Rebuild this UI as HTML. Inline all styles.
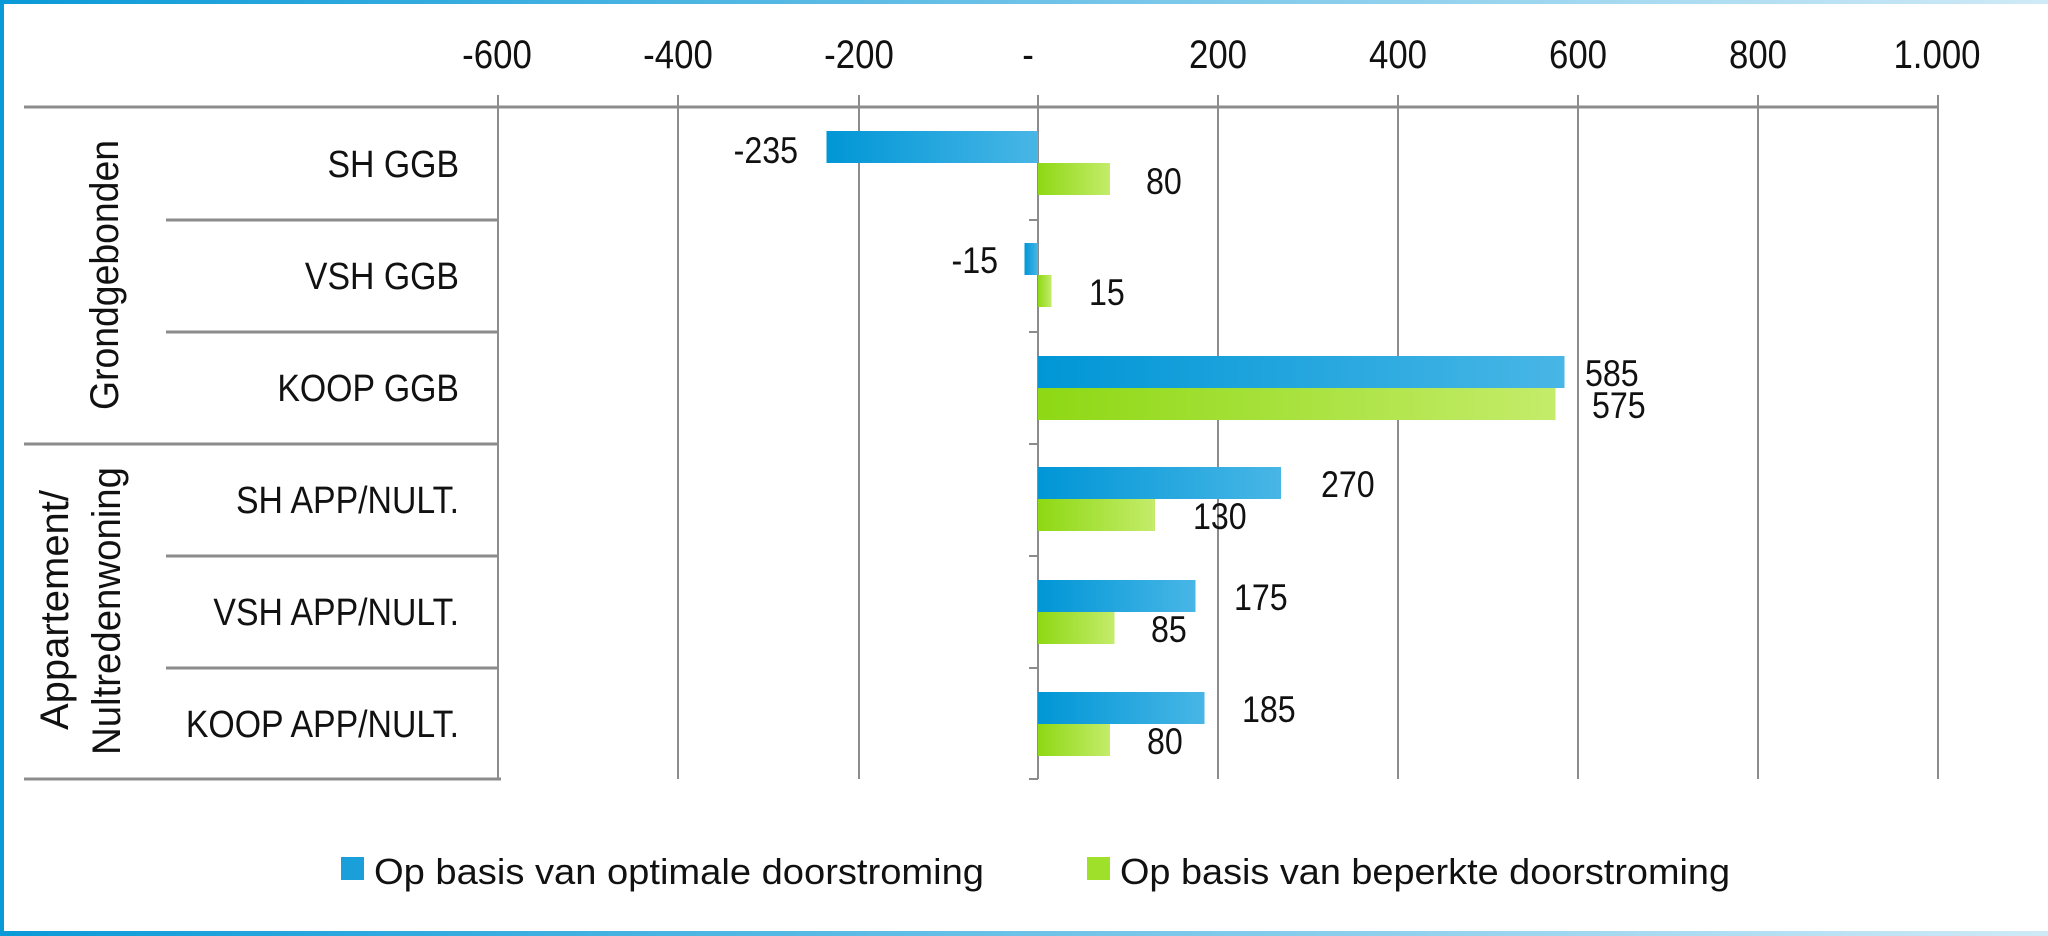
<!DOCTYPE html>
<html><head><meta charset="utf-8"><style>html,body{margin:0;padding:0;background:#fff}svg{display:block}</style></head>
<body>
<svg width="2048" height="936" viewBox="0 0 2048 936" xmlns="http://www.w3.org/2000/svg" font-family="Liberation Sans, sans-serif" fill="#111">
<defs>
<linearGradient id="b" x1="0" x2="1" y1="0" y2="0"><stop offset="0" stop-color="#0096d6"/><stop offset="1" stop-color="#48b6e6"/></linearGradient>
<linearGradient id="g" x1="0" x2="1" y1="0" y2="0"><stop offset="0" stop-color="#8ed814"/><stop offset="1" stop-color="#c4ec6a"/></linearGradient>
<linearGradient id="fr" x1="0" x2="1" y1="0" y2="0"><stop offset="0" stop-color="#0a9ad8"/><stop offset="1" stop-color="#cfeaf7"/></linearGradient>
</defs>
<rect x="0" y="0" width="2048" height="4" fill="url(#fr)"/>
<rect x="0" y="931" width="2048" height="5" fill="url(#fr)"/>
<rect x="0" y="0" width="4" height="936" fill="#0a9ad8"/>
<g stroke="#8c8c8c" stroke-width="2">
<line x1="498" y1="95" x2="498" y2="779"/>
<line x1="678" y1="95" x2="678" y2="779"/>
<line x1="859" y1="95" x2="859" y2="779"/>
<line x1="1038" y1="95" x2="1038" y2="779"/>
<line x1="1218" y1="95" x2="1218" y2="779"/>
<line x1="1398" y1="95" x2="1398" y2="779"/>
<line x1="1578" y1="95" x2="1578" y2="779"/>
<line x1="1758" y1="95" x2="1758" y2="779"/>
<line x1="1938" y1="95" x2="1938" y2="779"/>
<line x1="1029" y1="220" x2="1038" y2="220"/>
<line x1="1029" y1="332" x2="1038" y2="332"/>
<line x1="1029" y1="444" x2="1038" y2="444"/>
<line x1="1029" y1="556" x2="1038" y2="556"/>
<line x1="1029" y1="668" x2="1038" y2="668"/>
<line x1="1029" y1="779" x2="1038" y2="779"/>
</g>
<g stroke="#8c8c8c" stroke-width="3">
<line x1="24" y1="107" x2="1939" y2="107"/>
<line x1="24" y1="779" x2="501" y2="779"/>
<line x1="24" y1="444" x2="498" y2="444"/>
<line x1="166" y1="220" x2="498" y2="220"/>
<line x1="166" y1="332" x2="498" y2="332"/>
<line x1="166" y1="556" x2="498" y2="556"/>
<line x1="166" y1="668" x2="498" y2="668"/>
</g>
<g font-size="40" text-anchor="middle">
<text transform="translate(497,68) scale(0.87,1)">-600</text>
<text transform="translate(678,68) scale(0.87,1)">-400</text>
<text transform="translate(859,68) scale(0.87,1)">-200</text>
<text transform="translate(1028,68) scale(0.87,1)">-</text>
<text transform="translate(1218,68) scale(0.87,1)">200</text>
<text transform="translate(1398,68) scale(0.87,1)">400</text>
<text transform="translate(1578,68) scale(0.87,1)">600</text>
<text transform="translate(1758,68) scale(0.87,1)">800</text>
<text transform="translate(1937,68) scale(0.87,1)">1.000</text>
</g>
<g font-size="38" text-anchor="end">
<text transform="translate(459,177) scale(0.89,1)">SH GGB</text>
<text transform="translate(459,289) scale(0.89,1)">VSH GGB</text>
<text transform="translate(459,401) scale(0.89,1)">KOOP GGB</text>
<text transform="translate(459,513) scale(0.89,1)">SH APP/NULT.</text>
<text transform="translate(459,625) scale(0.89,1)">VSH APP/NULT.</text>
<text transform="translate(459,737) scale(0.89,1)">KOOP APP/NULT.</text>
</g>
<g font-size="40" text-anchor="middle">
<text transform="translate(118,275) rotate(-90)" textLength="270" lengthAdjust="spacingAndGlyphs">Grondgebonden</text>
<text transform="translate(68,610) rotate(-90)" textLength="240" lengthAdjust="spacingAndGlyphs">Appartement/</text>
<text transform="translate(120,611) rotate(-90)" textLength="288" lengthAdjust="spacingAndGlyphs">Nultredenwoning</text>
</g>
<rect x="826.5" y="131" width="211.5" height="32" fill="url(#b)"/>
<rect x="1038" y="163" width="72" height="32" fill="url(#g)"/>
<rect x="1024.5" y="243" width="13.5" height="32" fill="url(#b)"/>
<rect x="1038" y="275" width="13.5" height="32" fill="url(#g)"/>
<rect x="1038" y="356" width="526.5" height="32" fill="url(#b)"/>
<rect x="1038" y="388" width="517.5" height="32" fill="url(#g)"/>
<rect x="1038" y="467" width="243" height="32" fill="url(#b)"/>
<rect x="1038" y="499" width="117" height="32" fill="url(#g)"/>
<rect x="1038" y="580" width="157.5" height="32" fill="url(#b)"/>
<rect x="1038" y="612" width="76.5" height="32" fill="url(#g)"/>
<rect x="1038" y="692" width="166.5" height="32" fill="url(#b)"/>
<rect x="1038" y="724" width="72" height="32" fill="url(#g)"/>
<g font-size="37">
<text transform="translate(798,163) scale(0.87,1)" text-anchor="end">-235</text>
<text transform="translate(1146,194) scale(0.87,1)">80</text>
<text transform="translate(998,273) scale(0.87,1)" text-anchor="end">-15</text>
<text transform="translate(1089,305) scale(0.87,1)">15</text>
<text transform="translate(1585,386) scale(0.87,1)">585</text>
<text transform="translate(1592,418) scale(0.87,1)">575</text>
<text transform="translate(1321,497) scale(0.87,1)">270</text>
<text transform="translate(1193,529) scale(0.87,1)">130</text>
<text transform="translate(1234,610) scale(0.87,1)">175</text>
<text transform="translate(1151,642) scale(0.87,1)">85</text>
<text transform="translate(1242,722) scale(0.87,1)">185</text>
<text transform="translate(1147,754) scale(0.87,1)">80</text>
</g>
<rect x="341" y="857" width="23" height="23" fill="#1a9fda"/>
<text x="374" y="884" font-size="36" textLength="610" lengthAdjust="spacingAndGlyphs">Op basis van optimale doorstroming</text>
<rect x="1087" y="857" width="23" height="23" fill="#9ee02a"/>
<text x="1120" y="884" font-size="36" textLength="610" lengthAdjust="spacingAndGlyphs">Op basis van beperkte doorstroming</text>
</svg>
</body></html>
